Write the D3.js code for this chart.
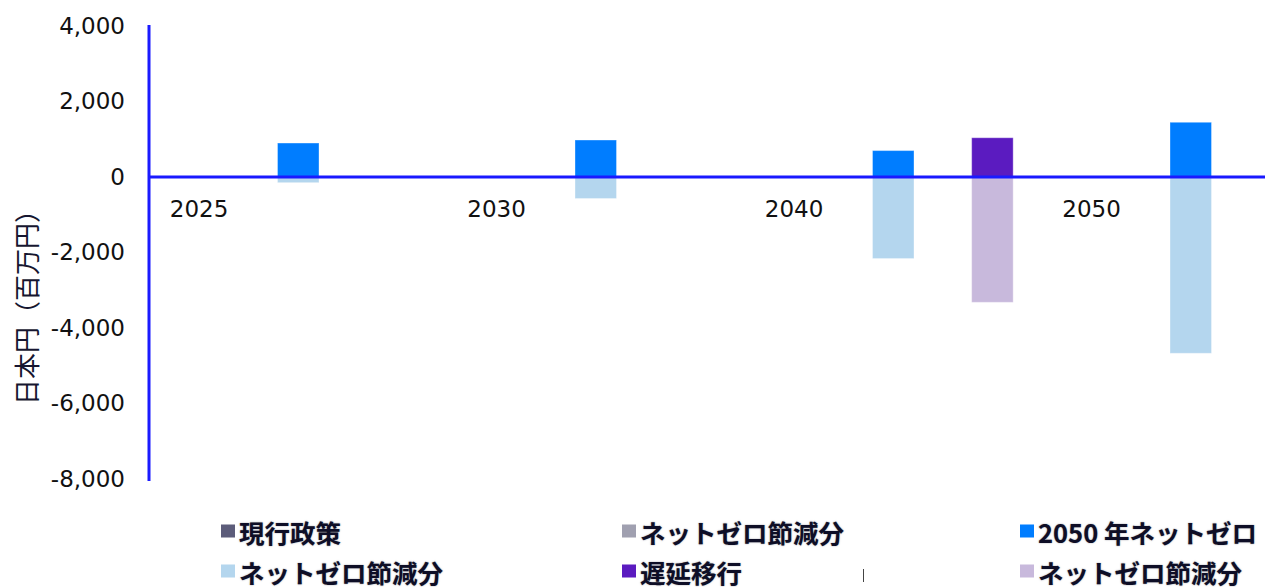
<!DOCTYPE html>
<html>
<head>
<meta charset="utf-8">
<script src="https://cdn.jsdelivr.net/npm/d3@7"></script>
<style>
  html, body { margin: 0; padding: 0; background: #fff; }
  svg { display: block; }
</style>
</head>
<body>
<svg id="chart" width="1265" height="587"></svg>
<script>
// Years on the category axis
const categories = ["2025", "2030", "2040", "2050"];

// Values in millions of yen, one entry per year
const currentPolicy = [0, 0, 0, 0];
const currentPolicySavings = [0, 0, 0, 0];
const netZero2050 = [900, 980, 700, 1450];
const netZero2050Savings = [-150, -570, -2160, -4670];
const delayedTransition = [0, 0, 1040, 0];
const delayedSavings = [0, 0, -3320, 0];

const yTicks = [4000, 2000, 0, -2000, -4000, -6000, -8000];

const groups = ["current", "netzero", "delayed"];

const series = [
  { group: "current", name: "現行政策", values: currentPolicy, color: "#5c5c7a" },
  { group: "current", name: "ネットゼロ節減分", values: currentPolicySavings, color: "#a0a0b0" },
  { group: "netzero", name: "2050 年ネットゼロ", values: netZero2050, color: "#007dff" },
  { group: "netzero", name: "ネットゼロ節減分", values: netZero2050Savings, color: "#b4d6ee" },
  { group: "delayed", name: "遅延移行", values: delayedTransition, color: "#5b1bc0" },
  { group: "delayed", name: "ネットゼロ節減分", values: delayedSavings, color: "#c8b9dc" }
];

const svg = d3.select("#chart");
const axisColor = "#1a1aff";

const x0 = d3.scaleBand().domain(categories).range([149.5, 1339.5]).paddingInner(0).paddingOuter(0);
const x1 = d3.scaleBand().domain(groups).range([0, x0.bandwidth()]).padding(0);
const barW = 41.5;

const y = d3.scaleLinear().domain([-8000, 4000]).range([479, 26]);

// clip to the plotting width
svg.append("defs").append("clipPath").attr("id", "plotClip")
  .append("rect").attr("x", 149).attr("y", 0).attr("width", 1116).attr("height", 500);

const plot = svg.append("g").attr("clip-path", "url(#plotClip)");

series.forEach(s => {
  plot.append("g").selectAll("rect")
    .data(s.values.map((v, i) => ({ cat: categories[i], v })).filter(d => d.v !== 0))
    .join("rect")
    .attr("x", d => x0(d.cat) + x1(s.group) + (x1.bandwidth() - barW) / 2)
    .attr("width", barW)
    .attr("y", d => y(Math.max(0, d.v)))
    .attr("height", d => Math.abs(y(d.v) - y(0)))
    .attr("fill", s.color)
    .attr("stroke", "rgba(255,255,255,0.35)")
    .attr("stroke-width", 1);
});

// y axis (plain hyphen for negatives)
const fmt = d3.format(",");
const yAxis = d3.axisLeft(y).tickValues(yTicks).tickSize(0).tickPadding(24)
  .tickFormat(d => fmt(d).replace("\u2212", "-"));
const gy = svg.append("g").attr("transform", "translate(149,0)").call(yAxis);
gy.select(".domain").remove();
gy.selectAll("text")
  .attr("font-family", "'DejaVu Sans', Verdana, sans-serif")
  .attr("font-size", 23)
  .attr("fill", "#111");

svg.append("line")
  .attr("x1", 149).attr("x2", 149)
  .attr("y1", y(4000) - 1).attr("y2", y(-8000) + 2)
  .attr("stroke", axisColor).attr("stroke-width", 3);

// zero baseline
svg.append("line")
  .attr("x1", 149).attr("x2", 1265)
  .attr("y1", y(0)).attr("y2", y(0))
  .attr("stroke", axisColor).attr("stroke-width", 3);

// category labels below the baseline
svg.append("g").attr("class", "cat-labels").selectAll("text")
  .data(categories)
  .join("text")
  .attr("x", d => x0(d) + x1("current") + x1.bandwidth() / 2)
  .attr("y", 217)
  .attr("text-anchor", "middle")
  .attr("font-family", "'DejaVu Sans', Verdana, sans-serif")
  .attr("font-size", 23)
  .attr("fill", "#111")
  .text(d => d);

// y axis title
svg.append("text")
  .attr("transform", "translate(37,301) rotate(-90)")
  .attr("text-anchor", "middle")
  .attr("font-family", "'Noto Sans CJK JP', sans-serif")
  .attr("font-size", 26)
  .attr("fill", "#161630")
  .text("日本円（百万円）");

// legend
const legendPos = [
  { x: 221, y: 531 }, { x: 622, y: 531 }, { x: 1020, y: 531 },
  { x: 221, y: 571 }, { x: 622, y: 571 }, { x: 1020, y: 571 }
];
const lg = svg.append("g");
series.forEach((s, i) => {
  const p = legendPos[i];
  lg.append("rect")
    .attr("x", p.x).attr("y", p.y - 6.5)
    .attr("width", 14).attr("height", 13)
    .attr("fill", s.color);
  lg.append("text")
    .attr("x", p.x + 18).attr("y", p.y)
    .attr("dominant-baseline", "central")
    .attr("font-family", "'Noto Sans CJK JP', sans-serif")
    .attr("font-weight", 700)
    .attr("font-size", 25.5)
    .attr("fill", "#0e0e26")
    .attr("style", "text-shadow: 0 0 1.5px rgba(14,14,38,0.5)")
    .text(s.name);
});
// empty legend slot marker
lg.append("line")
  .attr("x1", 863.5).attr("x2", 863.5)
  .attr("y1", 569).attr("y2", 582)
  .attr("stroke", "#444").attr("stroke-width", 1);
</script>
</body>
</html>
